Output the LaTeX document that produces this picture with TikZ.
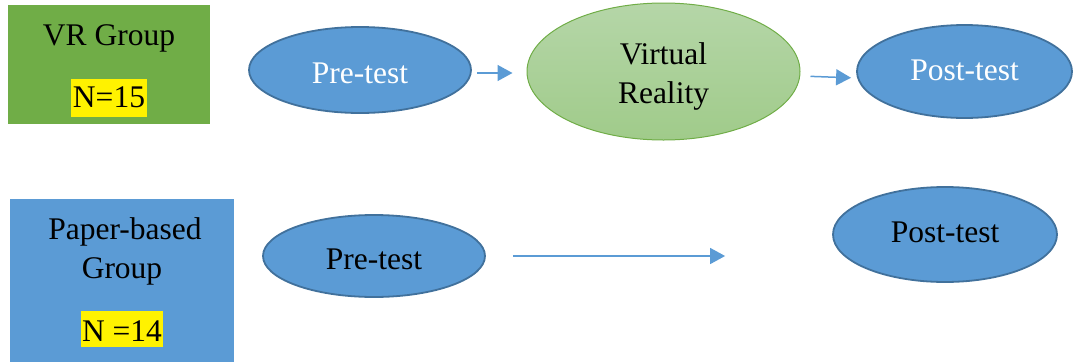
\documentclass[tikz,border=0pt]{standalone}
\usepackage{fontspec}
\setmainfont{Liberation Serif}
\usetikzlibrary{shapes.geometric,arrows.meta}
\definecolor{vrgreen}{HTML}{70AD47}
\definecolor{pblue}{HTML}{5B9BD5}
\definecolor{eborder}{HTML}{41719C}
\definecolor{vrtop}{HTML}{B5D6A8}
\definecolor{vrbot}{HTML}{A0CB8A}
\tikzset{
  txt/.style={font=\fontsize{31.5}{39}\selectfont, inner sep=0pt},
  groupbox/.style={draw=none, inner sep=0pt},
  hl/.style={txt, fill=yellow, inner xsep=1.5pt, inner ysep=1.5pt},
  testell/.style={ellipse, txt, fill=pblue, draw=eborder, line width=1.8pt, inner sep=0pt, text depth=0pt},
  vrell/.style={ellipse, inner sep=0pt, draw=vrgreen, line width=1pt, top color=vrtop, bottom color=vrbot},
  arr/.style={draw=pblue, line width=1.5pt, -{Triangle[length=15pt,width=16pt]}}
}
\begin{document}
\begin{tikzpicture}[x=1pt,y=-1pt]
\useasboundingbox (0,0) rectangle (1074,362);
% group boxes
\node[groupbox, fill=vrgreen, minimum width=202pt, minimum height=119pt] (vrbox) at (109,64.5) {};
\node[txt, anchor=base] (vrlabel) at (109,45) {VR Group};
\node[hl, anchor=base, text height=27pt, text depth=8pt] (n15) at (109,107.5) {N=15};

\node[groupbox, fill=pblue, minimum width=224pt, minimum height=163pt] (pbox) at (122,280.5) {};
\node[txt, anchor=base] (plabel1) at (125,239) {Paper-based};
\node[txt, anchor=base] (plabel2) at (122,278) {Group};
\node[hl, anchor=base, text height=29pt, text depth=4.5pt] (n14) at (122,341) {N =14};

% top row
\node[testell, text=white, minimum width=222pt, minimum height=86pt, text height=26pt] (pre1) at (360,70) {Pre-test};
\node[vrell, minimum width=273pt, minimum height=137pt] (vr) at (663.5,71.5) {};
\node[txt, align=center, yshift=-5pt] (vrtext) at (vr.center) {Virtual\\Reality};
\node[testell, text=white, minimum width=215pt, minimum height=93pt, text height=17pt] (post1) at (964.5,71.5) {Post-test};

% bottom row
\node[testell, minimum width=222pt, minimum height=82pt, text height=26pt] (pre2) at (374,256) {Pre-test};
\node[testell, minimum width=224pt, minimum height=95pt, text height=15pt] (post2) at (945,234.5) {Post-test};

% connectors
\draw[arr, shorten <=5pt, shorten >=14pt] ([yshift=-3pt]pre1.east) -- ([yshift=-1.5pt]vr.west);
\draw[arr, shorten <=10pt, shorten >=5pt] ([yshift=-4.5pt]vr.east) -- ([yshift=-6.5pt]post1.west);
\draw[arr, shorten <=27pt, shorten >=107pt] (pre2.east) -- (pre2.east -| post2.west);
\end{tikzpicture}
\end{document}
